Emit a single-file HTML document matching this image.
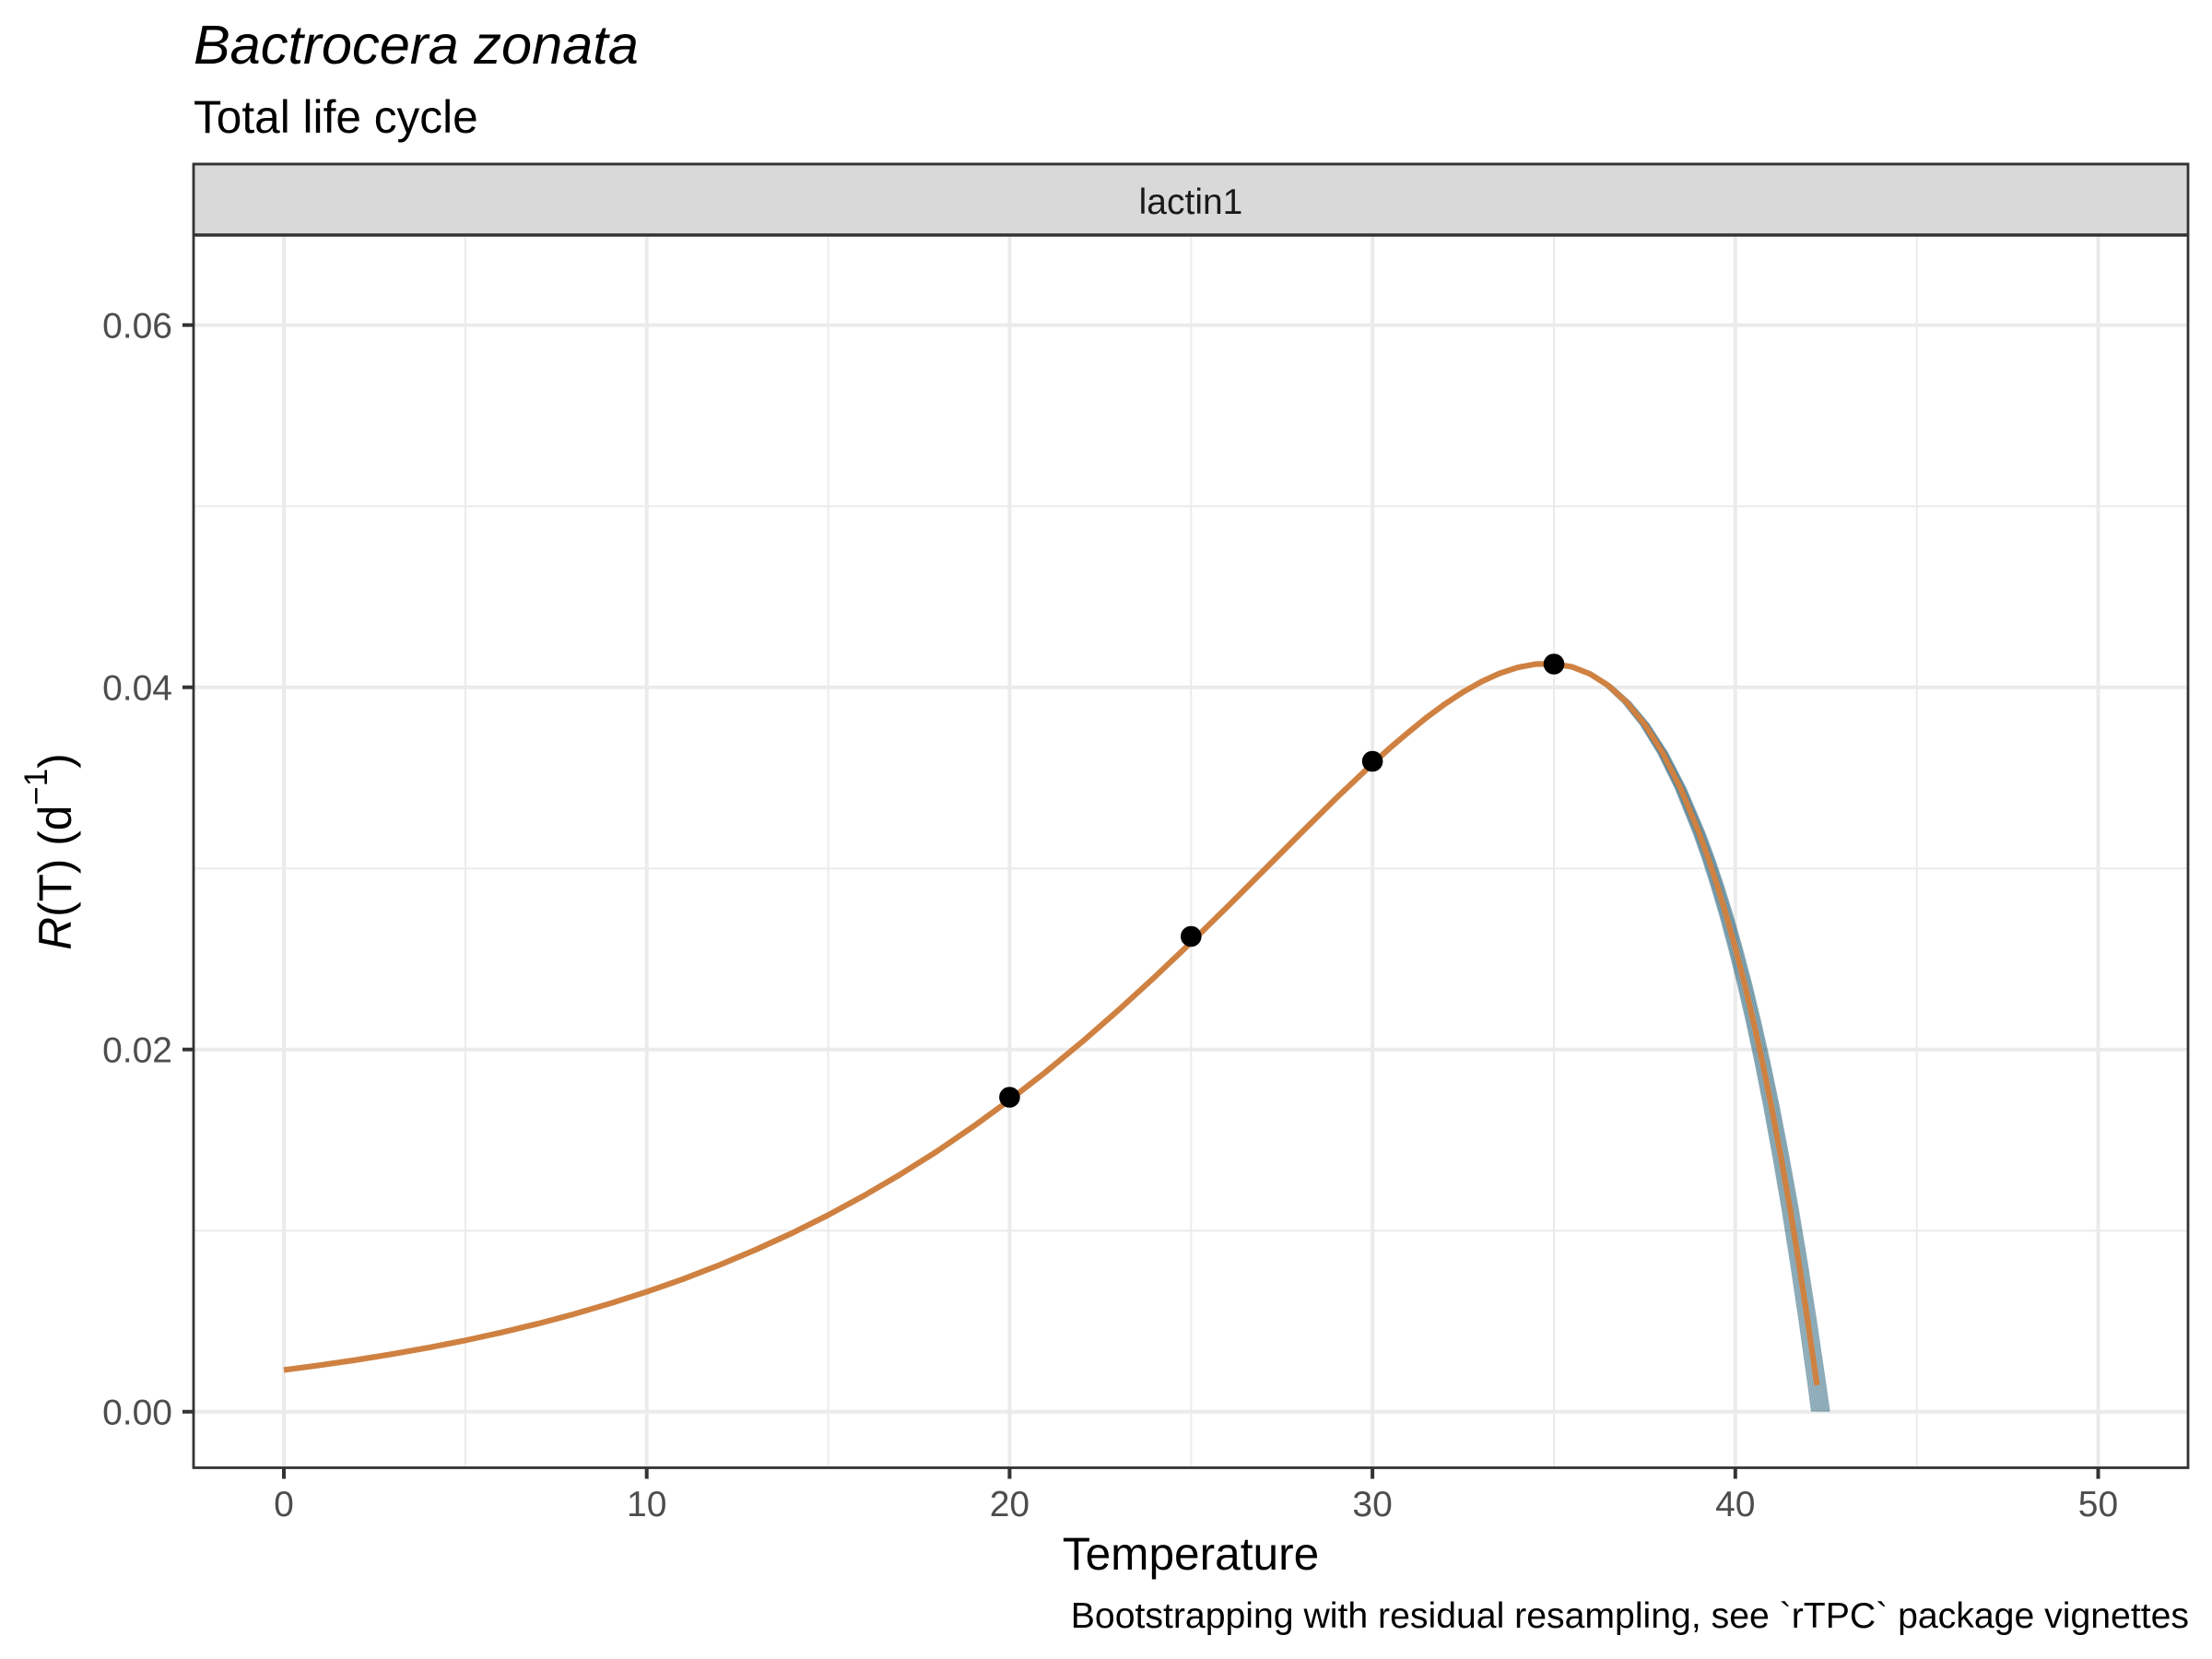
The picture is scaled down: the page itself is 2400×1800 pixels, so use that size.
<!DOCTYPE html>
<html>
<head>
<meta charset="utf-8">
<style>
html,body{margin:0;padding:0;background:#fff;}
svg{display:block;}
text{font-family:"Liberation Sans",Arial,sans-serif;}
</style>
</head>
<body>
<svg width="2400" height="1800" viewBox="0 0 2400 1800" xmlns="http://www.w3.org/2000/svg">
<rect x="0" y="0" width="2400" height="1800" fill="#ffffff"/>

<!-- titles -->
<text x="210" y="69" font-size="59.5" font-style="italic" fill="#000">Bactrocera zonata</text>
<text x="210" y="144" font-size="49.6" fill="#000">Total life cycle</text>

<!-- panel background -->
<rect x="210" y="255" width="2164" height="1337.5" fill="#ffffff"/>

<!-- minor grid -->
<g stroke="#EBEBEB" stroke-width="2" fill="none">
<line x1="504.9" y1="255" x2="504.9" y2="1592.5"/>
<line x1="898.6" y1="255" x2="898.6" y2="1592.5"/>
<line x1="1292.3" y1="255" x2="1292.3" y2="1592.5"/>
<line x1="1686" y1="255" x2="1686" y2="1592.5"/>
<line x1="2079.7" y1="255" x2="2079.7" y2="1592.5"/>
<line x1="210" y1="1335.2" x2="2374" y2="1335.2"/>
<line x1="210" y1="942.2" x2="2374" y2="942.2"/>
<line x1="210" y1="549.2" x2="2374" y2="549.2"/>
</g>
<!-- major grid -->
<g stroke="#EBEBEB" stroke-width="4" fill="none">
<line x1="308" y1="255" x2="308" y2="1592.5"/>
<line x1="701.7" y1="255" x2="701.7" y2="1592.5"/>
<line x1="1095.4" y1="255" x2="1095.4" y2="1592.5"/>
<line x1="1489.1" y1="255" x2="1489.1" y2="1592.5"/>
<line x1="1882.8" y1="255" x2="1882.8" y2="1592.5"/>
<line x1="2276.5" y1="255" x2="2276.5" y2="1592.5"/>
<line x1="210" y1="1531.7" x2="2374" y2="1531.7"/>
<line x1="210" y1="1138.7" x2="2374" y2="1138.7"/>
<line x1="210" y1="745.7" x2="2374" y2="745.7"/>
<line x1="210" y1="352.7" x2="2374" y2="352.7"/>
</g>

<defs>
<polyline id="tail" points="1607.2,739.7 1626.9,730.7 1646.6,724.2 1666.3,720.5 1686.0,720.3 1705.6,723.5 1725.3,731.3 1745.0,743.8 1764.7,761.8 1784.4,785.8 1804.1,817.0 1823.7,855.9 1843.4,903.4 1853.3,930.7 1863.1,960.5 1873.0,993.1 1882.8,1028.4 1892.7,1066.8 1902.5,1108.4 1912.4,1153.3 1922.2,1201.6 1932.0,1253.7 1941.9,1309.6 1951.7,1369.7 1961.5,1434.0 1971.4,1502.9 1975.3,1531.7"/>
</defs>

<!-- bootstrap lines -->
<g stroke="#175570" stroke-width="2.2" fill="none" stroke-opacity="0.5" stroke-linejoin="round">
<use href="#tail" transform="matrix(0.975,0,0,1,40.18,0)"/>
<use href="#tail" transform="matrix(0.98125,0,0,1,30.14,0)"/>
<use href="#tail" transform="matrix(0.9875,0,0,1,20.09,0)"/>
<use href="#tail" transform="matrix(0.99375,0,0,1,10.05,0)"/>
<use href="#tail"/>
<use href="#tail" transform="matrix(1.00625,0,0,1,-10.05,0)"/>
<use href="#tail" transform="matrix(1.0125,0,0,1,-20.09,0)"/>
<use href="#tail" transform="matrix(1.01875,0,0,1,-30.14,0)"/>
<use href="#tail" transform="matrix(1.025,0,0,1,-40.18,0)"/>
</g>

<!-- fitted curve -->
<polyline fill="none" stroke="#CF8141" stroke-width="6.2" stroke-linejoin="round" points="308,1486.4 347.4,1481.2 386.7,1475.5 426.1,1469.1 465.5,1462.1 504.9,1454.3 544.2,1445.7 583.6,1436.2 623.0,1425.7 662.3,1414.2 701.7,1401.6 741.1,1387.8 780.4,1372.6 819.8,1356.0 859.2,1338.0 898.6,1318.3 937.9,1297.0 977.3,1273.9 1016.7,1249.1 1056.0,1222.2 1095.4,1193.5 1134.8,1162.9 1174.1,1130.4 1213.5,1096.0 1252.9,1060.0 1292.3,1022.5 1331.6,983.9 1371.0,944.5 1410.4,905.0 1449.7,866.1 1489.1,828.7 1508.8,810.9 1528.5,794.2 1548.2,778.2 1567.8,763.8 1587.5,750.8 1607.2,739.7 1626.9,730.7 1646.6,724.2 1666.3,720.5 1686.0,720.3 1705.6,723.5 1725.3,731.3 1745.0,743.8 1764.7,761.8 1784.4,785.8 1804.1,817.0 1823.7,855.9 1843.4,903.4 1853.3,930.7 1863.1,960.5 1873.0,993.1 1882.8,1028.4 1892.7,1066.8 1902.5,1108.4 1912.4,1153.3 1922.2,1201.6 1932.0,1253.7 1941.9,1309.6 1951.7,1369.7 1961.5,1434.0 1971.4,1502.9"/>

<!-- data points -->
<g fill="#000">
<circle cx="1095.4" cy="1190.5" r="11.3"/>
<circle cx="1292.3" cy="1016" r="11.3"/>
<circle cx="1489.1" cy="826" r="11.3"/>
<circle cx="1686" cy="720.5" r="11.3"/>
</g>

<!-- strip -->
<rect x="210" y="178" width="2164" height="77" fill="#D9D9D9"/>
<line x1="210" y1="178" x2="2374" y2="178" stroke="#333333" stroke-width="2.4"/>
<line x1="210" y1="255" x2="2374" y2="255" stroke="#333333" stroke-width="3.4"/>
<text x="1292" y="232" font-size="39" fill="#1A1A1A" text-anchor="middle">lactin1</text>

<!-- panel border -->
<rect x="210" y="178" width="2164" height="1414.5" fill="none" stroke="#333333" stroke-width="2.8"/>

<!-- ticks -->
<g stroke="#333333" stroke-width="4">
<line x1="198" y1="1531.7" x2="210" y2="1531.7"/>
<line x1="198" y1="1138.7" x2="210" y2="1138.7"/>
<line x1="198" y1="745.7" x2="210" y2="745.7"/>
<line x1="198" y1="352.7" x2="210" y2="352.7"/>
<line x1="308" y1="1592.5" x2="308" y2="1604.5"/>
<line x1="701.7" y1="1592.5" x2="701.7" y2="1604.5"/>
<line x1="1095.4" y1="1592.5" x2="1095.4" y2="1604.5"/>
<line x1="1489.1" y1="1592.5" x2="1489.1" y2="1604.5"/>
<line x1="1882.8" y1="1592.5" x2="1882.8" y2="1604.5"/>
<line x1="2276.5" y1="1592.5" x2="2276.5" y2="1604.5"/>
</g>

<!-- y tick labels -->
<g font-size="39" fill="#4D4D4D" text-anchor="end">
<text x="187" y="1545.4">0.00</text>
<text x="187" y="1152.4">0.02</text>
<text x="187" y="759.4">0.04</text>
<text x="187" y="366.4">0.06</text>
</g>
<!-- x tick labels -->
<g font-size="39" fill="#4D4D4D" text-anchor="middle">
<text x="308" y="1645">0</text>
<text x="701.7" y="1645">10</text>
<text x="1095.4" y="1645">20</text>
<text x="1489.1" y="1645">30</text>
<text x="1882.8" y="1645">40</text>
<text x="2276.5" y="1645">50</text>
</g>

<!-- axis titles -->
<text x="1292" y="1703" font-size="49.6" fill="#000" text-anchor="middle">Temperature</text>
<text transform="translate(77,924) rotate(-90)" font-size="49.6" fill="#000" text-anchor="middle"><tspan font-style="italic">R</tspan>(T) (d<tspan dy="-26" font-size="35">−1</tspan><tspan dy="26">)</tspan></text>

<!-- caption -->
<text x="2375" y="1766" font-size="39.2" fill="#000" text-anchor="end">Bootstrapping with residual resampling, see `rTPC` package vignettes</text>
</svg>
</body>
</html>
